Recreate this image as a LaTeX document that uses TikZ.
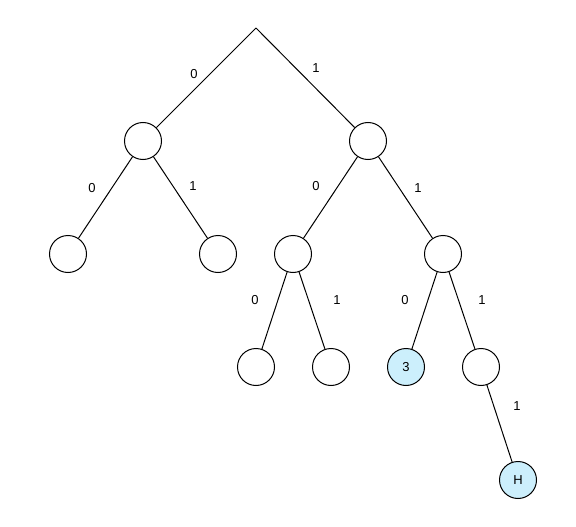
\documentclass[tikz,border=0pt]{standalone}
\usepackage{fontspec}
\setmainfont{Liberation Sans}
\begin{document}
\begin{tikzpicture}[x=1pt,y=-1pt,
  tn/.style={circle,draw=black,line width=1pt,minimum size=37pt,inner sep=0pt,font=\fontsize{13}{15}\selectfont},
  hl/.style={tn,fill=cyan!20},
  edge/.style={line width=1pt},
  lbl/.style={font=\fontsize{13}{15}\selectfont,inner sep=0pt}]
\useasboundingbox (0,0) rectangle (576,527);
\coordinate (root) at (256,28);
\node[tn] (L) at (143,141) {};
\node[tn] (R) at (368,141) {};
\node[tn] (LL) at (68,254) {};
\node[tn] (LR) at (218,254) {};
\node[tn] (RL) at (293,254) {};
\node[tn] (RR) at (443,254) {};
\node[tn] (RLL) at (256,367) {};
\node[tn] (RLR) at (331,367) {};
\node[hl] (RRL) at (406,367) {3};
\node[tn] (RRR) at (481,367) {};
\node[hl] (H) at (518,480) {H};
\draw[edge] (root) -- (L);
\draw[edge] (root) -- (R);
\draw[edge] (L) -- (LL);
\draw[edge] (L) -- (LR);
\draw[edge] (R) -- (RL);
\draw[edge] (R) -- (RR);
\draw[edge] (RL) -- (RLL);
\draw[edge] (RL) -- (RLR);
\draw[edge] (RR) -- (RRL);
\draw[edge] (RR) -- (RRR);
\draw[edge] (RRR) -- (H);
\node[lbl] (l1) at (194,74) {0};
\node[lbl] (l2) at (316,68) {1};
\node[lbl] (l3) at (92,188) {0};
\node[lbl] (l4) at (193,186) {1};
\node[lbl] (l5) at (316,186) {0};
\node[lbl] (l6) at (418,188) {1};
\node[lbl] (l7) at (255,300) {0};
\node[lbl] (l8) at (337,300) {1};
\node[lbl] (l9) at (405,300) {0};
\node[lbl] (l10) at (482,300) {1};
\node[lbl] (l11) at (517,406) {1};
\end{tikzpicture}
\end{document}
